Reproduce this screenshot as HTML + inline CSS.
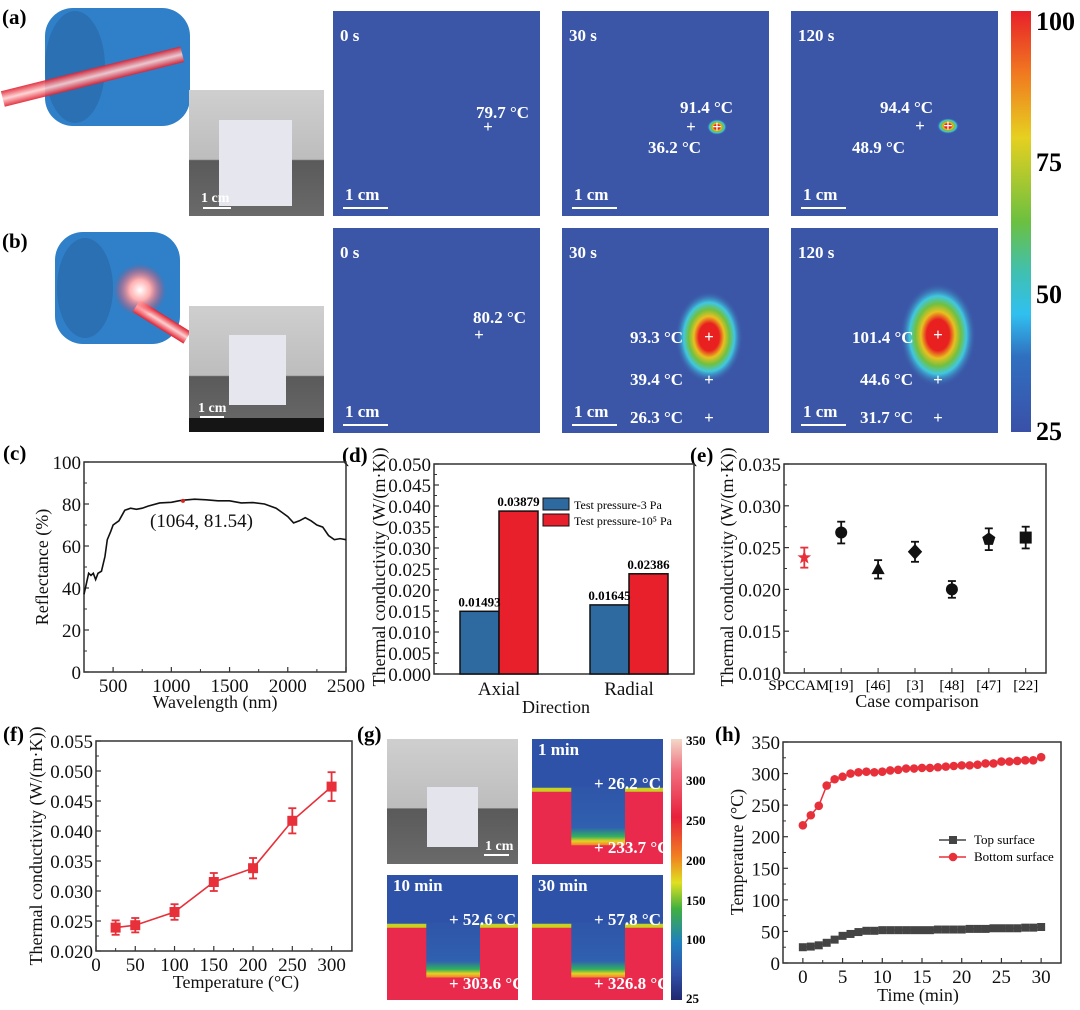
<!DOCTYPE html>
<html><head><meta charset="utf-8"><style>
html,body{margin:0;padding:0;background:#fff;}
svg{display:block;font-family:"Liberation Serif",serif;}
.pl{font-weight:bold;font-size:21px;}
.tk{font-size:19px;fill:#111;}
.ti{font-size:18px;fill:#111;}
.wt{fill:#fff;font-weight:bold;font-size:17px;}
</style></head><body>
<svg id="fig" width="1080" height="1010" viewBox="0 0 1080 1010" xmlns="http://www.w3.org/2000/svg">
<defs>
<linearGradient id="cb" x1="0" y1="0" x2="0" y2="1">
<stop offset="0" stop-color="#e8202a"/><stop offset="0.15" stop-color="#f07a20"/><stop offset="0.3" stop-color="#e6d020"/><stop offset="0.5" stop-color="#6cc040"/><stop offset="0.62" stop-color="#40c0b0"/><stop offset="0.72" stop-color="#30c0f0"/><stop offset="0.82" stop-color="#3070c0"/><stop offset="1" stop-color="#3a50a8"/></linearGradient>
<linearGradient id="cb2" x1="0" y1="0" x2="0" y2="1">
<stop offset="0" stop-color="#f2d8c8"/><stop offset="0.12" stop-color="#f07080"/><stop offset="0.3" stop-color="#e8203c"/><stop offset="0.45" stop-color="#f08020"/><stop offset="0.55" stop-color="#e0e020"/><stop offset="0.65" stop-color="#40b040"/><stop offset="0.78" stop-color="#2080c0"/><stop offset="0.9" stop-color="#3050a8"/><stop offset="1" stop-color="#202870"/></linearGradient>
<radialGradient id="hot"><stop offset="0" stop-color="#e82020"/><stop offset="0.3" stop-color="#e82020"/><stop offset="0.45" stop-color="#e8c020"/><stop offset="0.6" stop-color="#70c040"/><stop offset="0.75" stop-color="#40c8e0"/><stop offset="1" stop-color="#3a55a8" stop-opacity="0"/></radialGradient>
<radialGradient id="glow"><stop offset="0" stop-color="#fff"/><stop offset="0.4" stop-color="#ffb0b0"/><stop offset="1" stop-color="#ff3040" stop-opacity="0"/></radialGradient>
<linearGradient id="beam" x1="0" y1="0" x2="0" y2="1"><stop offset="0" stop-color="#e02030"/><stop offset="0.5" stop-color="#ffd0d0"/><stop offset="1" stop-color="#e02030"/></linearGradient>
<linearGradient id="photo" x1="0" y1="0" x2="0" y2="1"><stop offset="0" stop-color="#cfcfcf"/><stop offset="0.55" stop-color="#bdbdbd"/><stop offset="0.56" stop-color="#5a5a5a"/><stop offset="1" stop-color="#6a6a6a"/></linearGradient>
<linearGradient id="notch" x1="0" y1="0" x2="0" y2="1"><stop offset="0" stop-color="#2f55a8"/><stop offset="0.7" stop-color="#3060b0"/><stop offset="0.85" stop-color="#30b060"/><stop offset="0.93" stop-color="#e8d020"/><stop offset="1" stop-color="#f08030"/></linearGradient>
</defs>

<g>
<rect x="45" y="8" width="145" height="118" rx="28" fill="#2f80c8"/>
<ellipse cx="75" cy="67" rx="30" ry="56" fill="#2a6aa8" opacity="0.7"/>
<rect x="0" y="68" width="185" height="16" fill="url(#beam)" transform="rotate(-14 95 76)" opacity="0.9"/>
</g>
<g>
<rect x="55" y="232" width="125" height="112" rx="28" fill="#2f80c8"/>
<ellipse cx="85" cy="288" rx="28" ry="50" fill="#2a6aa8" opacity="0.7"/>
<rect x="140" y="300" width="60" height="14" fill="url(#beam)" transform="rotate(32 140 300)"/>
<circle cx="140" cy="290" r="26" fill="url(#glow)"/>
</g>
<g>
<rect x="189" y="90" width="135" height="126" fill="url(#photo)"/>
<rect x="219" y="120" width="73" height="86" fill="#e6e6ee"/>
<text x="201" y="202" fill="#fff" font-weight="bold" font-size="14">1 cm</text>
<line x1="203" y1="208" x2="231" y2="208" stroke="#fff" stroke-width="2"/>
</g>
<g>
<rect x="189" y="306" width="135" height="126" fill="url(#photo)"/>
<rect x="189" y="418" width="135" height="14" fill="#151515"/>
<rect x="229" y="335" width="57" height="70" fill="#e6e6ee"/>
<text x="198" y="412" fill="#fff" font-weight="bold" font-size="14">1 cm</text>
<line x1="200" y1="417" x2="224" y2="417" stroke="#fff" stroke-width="2"/>
</g>
<text class="pl" x="2" y="24">(a)</text>
<text class="pl" x="2" y="248">(b)</text>

<g id="thermal"></g>

<g>
<rect x="1011" y="11" width="20" height="421" fill="url(#cb)"/>
<text x="1036" y="30" font-weight="bold" font-size="26">100</text>
<text x="1036" y="171" font-weight="bold" font-size="26">75</text>
<text x="1036" y="303" font-weight="bold" font-size="26">50</text>
<text x="1036" y="440" font-weight="bold" font-size="26">25</text>
</g>

<text class="pl" x="3" y="460">(c)</text>
<text class="pl" x="342" y="462">(d)</text>
<text class="pl" x="690" y="462">(e)</text>
<text class="pl" x="3" y="741">(f)</text>
<text class="pl" x="357" y="741">(g)</text>
<text class="pl" x="715" y="741">(h)</text>

<g>
<rect x="387" y="739" width="131" height="125" fill="url(#photo)"/>
<rect x="427" y="787" width="51" height="60" fill="#e4e4ec"/>
<text x="485" y="850" fill="#fff" font-weight="bold" font-size="14">1 cm</text>
<line x1="484" y1="855" x2="509" y2="855" stroke="#fff" stroke-width="2"/>
</g>
<g id="gpanels"></g>
<g>
<rect x="671" y="739" width="11" height="261" fill="url(#cb2)"/>
<text x="686" y="745" font-weight="bold" font-size="13">350</text>
<text x="686" y="785" font-weight="bold" font-size="13">300</text>
<text x="686" y="825" font-weight="bold" font-size="13">250</text>
<text x="686" y="865" font-weight="bold" font-size="13">200</text>
<text x="686" y="905" font-weight="bold" font-size="13">150</text>
<text x="686" y="944" font-weight="bold" font-size="13">100</text>
<text x="686" y="1003" font-weight="bold" font-size="13">25</text>
</g>

<g id="cC"></g>
<g id="cD"></g>
<g id="cE"></g>
<g id="cF"></g>
<g id="cH"></g>
</svg>
<script>
const cWave=[250,270,290,310,330,350,370,400,430,450,480,500,550,600,650,700,750,800,900,1000,1064,1100,1200,1300,1400,1500,1600,1700,1800,1900,1950,2000,2050,2100,2150,2200,2250,2300,2350,2400,2450,2500];
const cRefl=[37,42,47,46,47,44,47,48,55,63,67,70,72,77,78,77.5,78,79,80.5,80.8,81.5,81.8,82.3,82,81.5,81.5,80.5,80.7,80,78,76,74,71,72,73.5,72,70,69,65,63,63.5,63];
const cXTicks=[500,1000,1500,2000,2500];
const cYTicks=[0,20,40,60,80,100];
const dCats=["Axial","Radial"];
const dLow=[0.01493,0.01645];
const dHigh=[0.03879,0.02386];
const dLowLbl=["0.01493","0.01645"];
const dHighLbl=["0.03879","0.02386"];
const dYTicks=[0,0.005,0.01,0.015,0.02,0.025,0.03,0.035,0.04,0.045,0.05];
const eCats=["SPCCAM","[19]","[46]","[3]","[48]","[47]","[22]"];
const eVals=[0.0238,0.0268,0.0224,0.0245,0.0200,0.0260,0.0262];
const eErr=[0.0012,0.0013,0.0011,0.0012,0.0010,0.0013,0.0013];
const eShapes=["star","circle","triangle","diamond","circle","pentagon","square"];
const eYTicks=[0.010,0.015,0.020,0.025,0.030,0.035];
const fTemp=[25,50,100,150,200,250,300];
const fVals=[0.0239,0.0243,0.0265,0.0315,0.0338,0.0417,0.0474];
const fErr=[0.0012,0.0012,0.0013,0.0015,0.0017,0.0021,0.0024];
const fXTicks=[0,50,100,150,200,250,300];
const fYTicks=[0.020,0.025,0.030,0.035,0.040,0.045,0.050,0.055];
const hTime=[0,1,2,3,4,5,6,7,8,9,10,11,12,13,14,15,16,17,18,19,20,21,22,23,24,25,26,27,28,29,30];
const hTop=[25,26,28,32,37,43,46,49,51,51,52,52,52,52,52,52,52,53,53,53,53,54,54,54,55,55,55,55,56,56,57];
const hBottom=[218,234,249,281,291,295,300,302,303,302,303,305,306,308,308,309,309,310,311,312,313,313,314,316,316,319,319,320,321,321,326];
const hXTicks=[0,5,10,15,20,25,30];
const hYTicks=[0,50,100,150,200,250,300,350];

const NS="http://www.w3.org/2000/svg";
function mk(parent,tag,attrs,txt){const e=document.createElementNS(NS,tag);for(const k in attrs)e.setAttribute(k,attrs[k]);if(txt!==undefined)e.textContent=txt;parent.appendChild(e);return e;}
function lin(d0,d1,r0,r1){return v=>r0+(v-d0)/(d1-d0)*(r1-r0);}
function fmt(v,dec){return v.toFixed(dec);}

function frame(g,x0,y0,x1,y1,name){
  const r=mk(g,'rect',{x:x0,y:y0,width:x1-x0,height:y1-y0,fill:'none',stroke:'#333','stroke-width':1.5});
  
  
}
function yAxis(g,ticks,ys,x0,dec,name,minor){
  ticks.forEach((t,i)=>{
    mk(g,'line',{x1:x0,x2:x0+5,y1:ys(t),y2:ys(t),stroke:'#333','stroke-width':1.2});
    const tx=mk(g,'text',{x:x0-3,y:ys(t)+7,'text-anchor':'end',class:'tk'},fmt(t,dec));
    
    
    if(minor&&i<ticks.length-1){const m=(t+ticks[i+1])/2;mk(g,'line',{x1:x0,x2:x0+3,y1:ys(m),y2:ys(m),stroke:'#333'});}
  });
}
function xAxis(g,ticks,xs,y0,dec,name,minor){
  ticks.forEach((t,i)=>{
    mk(g,'line',{x1:xs(t),x2:xs(t),y1:y0,y2:y0-5,stroke:'#333','stroke-width':1.2});
    const tx=mk(g,'text',{x:xs(t),y:y0+20,'text-anchor':'middle',class:'tk'},fmt(t,dec));
    
    
    if(minor&&i<ticks.length-1){const m=(t+ticks[i+1])/2;mk(g,'line',{x1:xs(m),x2:xs(m),y1:y0,y2:y0-3,stroke:'#333'});}
  });
}
function ytitle(g,x,y,txt,name){const t=mk(g,'text',{x:x,y:y,transform:`rotate(-90 ${x} ${y})`,'text-anchor':'middle',class:'ti'},txt);
 }
function xtitle(g,x,y,txt,name){const t=mk(g,'text',{x:x,y:y,'text-anchor':'middle',class:'ti'},txt);
 }

(function(){
  const g=document.getElementById('cC');
  const x0=84,x1=346,y0=462,y1=672;
  const xs=lin(250,2500,x0,x1), ys=lin(0,100,y1,y0);
  frame(g,x0,y0,x1,y1,'chart-c');
  yAxis(g,cYTicks,ys,x0,0,'chart-c',true);
  xAxis(g,cXTicks,xs,y1,0,'chart-c',true);
  const p=mk(g,'path',{d:cWave.map((w,i)=>(i?'L':'M')+xs(w)+','+ys(cRefl[i])).join(''),fill:'none',stroke:'#111','stroke-width':1.6});
  
  const i=cWave.indexOf(1064);
  const pt=mk(g,'circle',{cx:xs(1100),cy:ys(cRefl[i]),r:2,fill:'#e02020'});
  
  const a=mk(g,'text',{x:150,y:527,class:'tk'},'(1064, 81.54)');
  
  ytitle(g,48,567,'Reflectance (%)','chart-c');
  xtitle(g,215,708,'Wavelength (nm)','chart-c');
})();

(function(){
  const g=document.getElementById('cD');
  const x0=434,x1=694,y0=464,y1=674;
  const xs=lin(0.5,2.5,x0,x1), ys=lin(0,0.05,y1,y0);
  frame(g,x0,y0,x1,y1,'chart-d');
  yAxis(g,dYTicks,ys,x0,3,'chart-d',true);
  const bw=0.3*(x1-x0)/2;
  dCats.forEach((c,i)=>{
    const cx=xs(i+1);
    const b1=mk(g,'rect',{x:cx-bw,y:ys(dLow[i]),width:bw,height:y1-ys(dLow[i]),fill:'#2e6aa0',stroke:'#111','stroke-width':1.5});
    
    const b2=mk(g,'rect',{x:cx,y:ys(dHigh[i]),width:bw,height:y1-ys(dHigh[i]),fill:'#e8202c',stroke:'#111','stroke-width':1.5});
    
    const l1=mk(g,'text',{x:cx-bw/2,y:ys(dLow[i])-5,'text-anchor':'middle','font-weight':'bold','font-size':13},dLowLbl[i]);
    
    const l2=mk(g,'text',{x:cx+bw/2,y:ys(dHigh[i])-5,'text-anchor':'middle','font-weight':'bold','font-size':13},dHighLbl[i]);
    
    const t=mk(g,'text',{x:cx,y:y1+21,'text-anchor':'middle',class:'tk'},c);
    
  });
  const lg=mk(g,'g',{});
  
  mk(lg,'rect',{x:543,y:498,width:26,height:12,fill:'#2e6aa0',stroke:'#111'});
  mk(lg,'text',{x:574,y:509,'font-size':12},'Test pressure-3 Pa');
  mk(lg,'rect',{x:543,y:514,width:26,height:12,fill:'#e8202c',stroke:'#111'});
  mk(lg,'text',{x:574,y:525,'font-size':12},'Test pressure-10⁵ Pa');
  ytitle(g,385,567,'Thermal conductivity (W/(m·K))','chart-d');
  xtitle(g,556,713,'Direction','chart-d');
})();

function shape(g,s,x,y,r,fill){
  let e;
  if(s==='circle')e=mk(g,'circle',{cx:x,cy:y,r:r,fill:fill});
  else if(s==='square')e=mk(g,'rect',{x:x-r,y:y-r,width:2*r,height:2*r,fill:fill});
  else{
    let pts=[];
    if(s==='triangle')pts=[[0,-r*1.2],[r*1.1,r*0.8],[-r*1.1,r*0.8]];
    else if(s==='diamond')pts=[[0,-r*1.3],[r*1.2,0],[0,r*1.3],[-r*1.2,0]];
    else if(s==='pentagon'){for(let k=0;k<5;k++){const a=-Math.PI/2+k*2*Math.PI/5;pts.push([r*1.15*Math.cos(a),r*1.15*Math.sin(a)]);}}
    else if(s==='star'){for(let k=0;k<10;k++){const a=-Math.PI/2+k*Math.PI/5;const rr=k%2?r*0.5:r*1.2;pts.push([rr*Math.cos(a),rr*Math.sin(a)]);}}
    e=mk(g,'polygon',{points:pts.map(p=>(x+p[0])+','+(y+p[1])).join(' '),fill:fill});
  }
  return e;
}
function errbar(g,x,ylo,yhi,col){
  mk(g,'line',{x1:x,x2:x,y1:ylo,y2:yhi,stroke:col,'stroke-width':1.8});
  mk(g,'line',{x1:x-4,x2:x+4,y1:ylo,y2:ylo,stroke:col,'stroke-width':1.8});
  mk(g,'line',{x1:x-4,x2:x+4,y1:yhi,y2:yhi,stroke:col,'stroke-width':1.8});
}
(function(){
  const g=document.getElementById('cE');
  const x0=784,x1=1046,y0=464,y1=673;
  const xs=lin(-0.55,6.55,x0,x1), ys=lin(0.010,0.035,y1,y0);
  frame(g,x0,y0,x1,y1,'chart-e');
  yAxis(g,eYTicks,ys,x0,3,'chart-e',true);
  eCats.forEach((c,i)=>{
    const x=xs(i), col=i===0?'#e8303a':'#111';
    mk(g,'line',{x1:x,x2:x,y1:y1,y2:y1-5,stroke:'#333'});
    const t=mk(g,'text',{x:i===0?x+25:x,y:y1+17,'text-anchor':i===0?'end':'middle','font-size':15},c);
    
    errbar(g,x,ys(eVals[i]-eErr[i]),ys(eVals[i]+eErr[i]),col);
    const m=shape(g,eShapes[i],x,ys(eVals[i]),6,col);
    
    
  });
  ytitle(g,733,567,'Thermal conductivity (W/(m·K))','chart-e');
  xtitle(g,917,707,'Case comparison','chart-e');
})();

(function(){
  const g=document.getElementById('cF');
  const x0=96,x1=352,y0=741,y1=951;
  const xs=lin(0,326,x0,x1), ys=lin(0.020,0.055,y1,y0);
  frame(g,x0,y0,x1,y1,'chart-f');
  yAxis(g,fYTicks,ys,x0,3,'chart-f',true);
  xAxis(g,fXTicks,xs,y1,0,'chart-f',true);
  const p=mk(g,'path',{d:fTemp.map((t,i)=>(i?'L':'M')+xs(t)+','+ys(fVals[i])).join(''),fill:'none',stroke:'#e8303a','stroke-width':1.6});
  
  fTemp.forEach((t,i)=>{
    errbar(g,xs(t),ys(fVals[i]-fErr[i]),ys(fVals[i]+fErr[i]),'#e8303a');
    const m=mk(g,'rect',{x:xs(t)-5,y:ys(fVals[i])-5,width:10,height:10,fill:'#e8303a'});
    
  });
  ytitle(g,42,846,'Thermal conductivity (W/(m·K))','chart-f');
  xtitle(g,236,988,'Temperature (°C)','chart-f');
})();

(function(){
  const g=document.getElementById('cH');
  const x0=783,x1=1061,y0=742,y1=963;
  const xs=lin(-2.5,32.5,x0,x1), ys=lin(0,350,y1,y0);
  frame(g,x0,y0,x1,y1,'chart-h');
  yAxis(g,hYTicks,ys,x0,0,'chart-h',true);
  xAxis(g,hXTicks,xs,y1,0,'chart-h',true);
  const p1=mk(g,'path',{d:hTime.map((t,i)=>(i?'L':'M')+xs(t)+','+ys(hTop[i])).join(''),fill:'none',stroke:'#444','stroke-width':1.5});
  
  const p2=mk(g,'path',{d:hTime.map((t,i)=>(i?'L':'M')+xs(t)+','+ys(hBottom[i])).join(''),fill:'none',stroke:'#e8303a','stroke-width':1.5});
  
  hTime.forEach((t,i)=>{
    const a=mk(g,'rect',{x:xs(t)-4,y:ys(hTop[i])-4,width:8,height:8,fill:'#444'});
    
    const b=mk(g,'circle',{cx:xs(t),cy:ys(hBottom[i]),r:4.3,fill:'#e8303a'});
    
  });
  const lg=mk(g,'g',{});
  
  mk(lg,'line',{x1:939,x2:966,y1:840,y2:840,stroke:'#444','stroke-width':1.5});
  mk(lg,'rect',{x:949,y:836,width:8,height:8,fill:'#444'});
  mk(lg,'text',{x:974,y:844,'font-size':13},'Top surface');
  mk(lg,'line',{x1:939,x2:966,y1:857,y2:857,stroke:'#e8303a','stroke-width':1.5});
  mk(lg,'circle',{cx:953,cy:857,r:4.3,fill:'#e8303a'});
  mk(lg,'text',{x:974,y:861,'font-size':13},'Bottom surface');
  ytitle(g,743,852,'Temperature (°C)','chart-h');
  xtitle(g,918,1001,'Time (min)','chart-h');
})();

(function(){
  const g=document.getElementById('thermal');
  const panels=[
    {x:333,y:11,t:'0 s',h:null,lab:[['79.7 °C',476,118]],cr:[[488,127]]},
    {x:562,y:11,t:'30 s',h:[717,127,10,8],lab:[['91.4 °C',680,113],['36.2 °C',648,153]],cr:[[717,127],[691,127]]},
    {x:791,y:11,t:'120 s',h:[948,126,11,8],lab:[['94.4 °C',880,113],['48.9 °C',852,153]],cr:[[948,126],[920,126]]},
    {x:333,y:228,t:'0 s',h:null,lab:[['80.2 °C',473,323]],cr:[[479,335]]},
    {x:562,y:228,t:'30 s',h:[709,337,34,46],lab:[['93.3 °C',630,343],['39.4 °C',630,385],['26.3 °C',630,423]],cr:[[709,337],[709,380],[709,418]]},
    {x:791,y:228,t:'120 s',h:[938,335,38,52],lab:[['101.4 °C',852,343],['44.6 °C',860,385],['31.7 °C',860,423]],cr:[[938,335],[938,380],[938,418]]}
  ];
  panels.forEach((p,k)=>{
    const pg=mk(g,'g',{});
    
    
    mk(pg,'rect',{x:p.x,y:p.y,width:207,height:205,fill:'#3b56a6'});
    if(p.h)mk(pg,'ellipse',{cx:p.h[0],cy:p.h[1],rx:p.h[2],ry:p.h[3],fill:'url(#hot)'});
    mk(pg,'text',{x:p.x+7,y:p.y+30,class:'wt','font-size':22},p.t);
    p.lab.forEach(l=>mk(pg,'text',{x:l[1],y:l[2],class:'wt'},l[0]));
    p.cr.forEach(c=>mk(pg,'text',{x:c[0],y:c[1]+5,class:'wt','text-anchor':'middle','font-size':16},'+'));
    mk(pg,'text',{x:p.x+12,y:p.y+189,class:'wt','font-size':18},'1 cm');
    mk(pg,'line',{x1:p.x+10,x2:p.x+55,y1:p.y+197,y2:p.y+197,stroke:'#fff','stroke-width':2});
  });
})();

(function(){
  const g=document.getElementById('gpanels');
  const panels=[
    {x:532,y:739,t:'1 min',a:'+ 26.2 °C',b:'+ 233.7 °C',nb:0.85},
    {x:387,y:875,t:'10 min',a:'+ 52.6 °C',b:'+ 303.6 °C',nb:0.82},
    {x:532,y:875,t:'30 min',a:'+ 57.8 °C',b:'+ 326.8 °C',nb:0.82}
  ];
  panels.forEach(p=>{
    const pg=mk(g,'g',{});
    
    
    const w=131,h=125;
    mk(pg,'rect',{x:p.x,y:p.y,width:w,height:h,fill:'#2d52a8'});
    mk(pg,'rect',{x:p.x,y:p.y+h*0.4,width:w,height:h*0.6,fill:'#ea2a4c'});
    mk(pg,'rect',{x:p.x,y:p.y+h*0.39,width:w,height:4,fill:'#c8d020'});
    mk(pg,'rect',{x:p.x+w*0.3,y:p.y+h*0.38,width:w*0.41,height:h*p.nb-h*0.38,fill:'url(#notch)'});
    mk(pg,'text',{x:p.x+6,y:p.y+16,class:'wt','font-size':14},p.t);
    mk(pg,'text',{x:p.x+62,y:p.y+50,class:'wt','font-size':14},p.a);
    mk(pg,'text',{x:p.x+62,y:p.y+h*0.88+4,class:'wt','font-size':14},p.b);
  });
})();
</script>
</body></html>
